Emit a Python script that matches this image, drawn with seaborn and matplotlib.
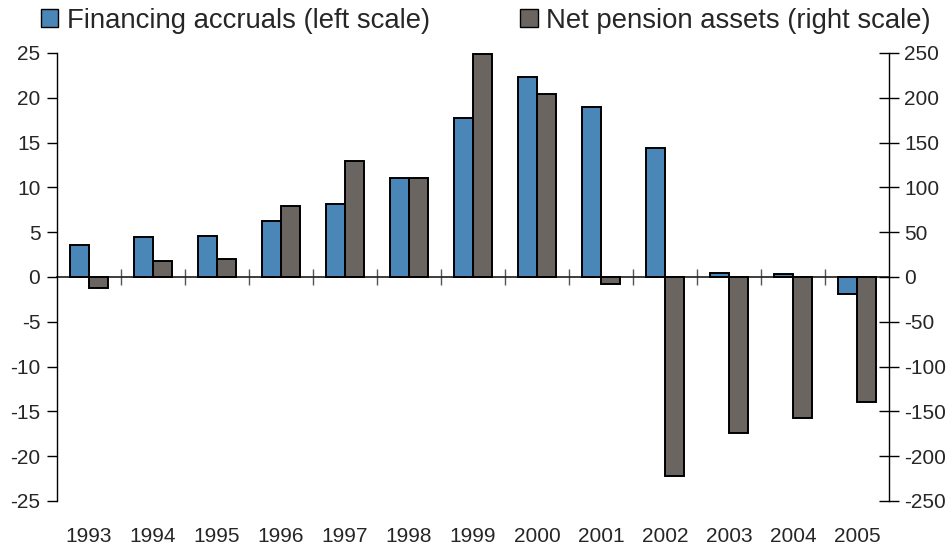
import matplotlib
matplotlib.use("Agg")
import matplotlib.pyplot as plt
from matplotlib.patches import Patch
import numpy as np
import pandas as pd
import seaborn as sns

years = [str(y) for y in range(1993, 2006)]
financing_accruals = [3.6, 4.5, 4.6, 6.2, 8.1, 11.0, 17.8, 22.3, 19.0, 14.4, 0.4, 0.3, -1.9]
net_pension_assets = [-12, 18, 20, 79, 130, 110, 249, 204, -8, -222, -174, -157, -140]

lab_left = "Financing accruals (left scale)"
lab_right = "Net pension assets (right scale)"
c_blue = "#4A87B8"
c_gray = "#6A6560"

sns.set_theme(style="white")
plt.rcParams['font.family'] = ['Liberation Sans', 'DejaVu Sans']
plt.rcParams['axes.unicode_minus'] = False

# long-form tables, one per axis (the other series left empty so dodge keeps its slot)
n = len(years)
df_left = pd.DataFrame({
    "year": years * 2,
    "series": [lab_left] * n + [lab_right] * n,
    "value": financing_accruals + [np.nan] * n,
})
df_right = pd.DataFrame({
    "year": years * 2,
    "series": [lab_left] * n + [lab_right] * n,
    "value": [np.nan] * n + net_pension_assets,
})
order = [lab_left, lab_right]
pal = {lab_left: c_blue, lab_right: c_gray}

fig = plt.figure(figsize=(9.52, 5.48), dpi=100)
ax = fig.add_axes([57 / 952, 1 - 501 / 548, (889 - 57) / 952, (501 - 53) / 548])
ax2 = ax.twinx()

kw = dict(x="year", y="value", hue="series", hue_order=order, order=years,
          palette=pal, width=0.6, dodge=True, errorbar=None, legend=False,
          edgecolor="black", linewidth=1.4, saturation=1)
sns.barplot(data=df_left, ax=ax, **kw)
sns.barplot(data=df_right, ax=ax2, **kw)

ax.set_xlim(-0.5, n - 0.5)
ax.set_ylim(-25, 25)
ax2.set_ylim(-250, 250)
ax.set_yticks(range(-25, 26, 5))
ax2.set_yticks(range(-250, 251, 50))
ax.set_xlabel("")
ax.set_ylabel("")
ax2.set_ylabel("")

for a in (ax, ax2):
    for s in ("top", "bottom"):
        a.spines[s].set_visible(False)
ax.spines["right"].set_visible(False)
ax2.spines["left"].set_visible(False)
ax.spines["left"].set_linewidth(1.0)
ax2.spines["right"].set_linewidth(1.0)
ax.spines["left"].set_color("black")
ax2.spines["right"].set_color("black")

ax.tick_params(axis="y", direction="out", length=7, width=1, color="black",
               labelsize=15, pad=5, left=True)
ax2.tick_params(axis="y", direction="inout", length=14, width=1, color="black",
                labelsize=15, pad=4, right=True)
ax.tick_params(axis="x", length=0, labelsize=15, pad=19)

# zero line with category boundary ticks
zero_ax = ax.secondary_xaxis(0.5)
zero_ax.set_xticks(np.arange(-0.5, n, 1.0)[1:-1])
zero_ax.tick_params(direction="inout", length=12, width=1, color="#555555", labelbottom=False)
zero_ax.set_xticklabels([])
zero_ax.spines["bottom"].set_linewidth(1.0)
zero_ax.spines["bottom"].set_color("black")

ax2.set_zorder(ax.get_zorder() + 1)
ax2.patch.set_visible(False)

for x0, lab, col in [(0.031, lab_left, c_blue), (0.535, lab_right, c_gray)]:
    fig.legend(handles=[Patch(facecolor=col, edgecolor="black", linewidth=1.0, label=lab)],
               loc="upper left", bbox_to_anchor=(x0, 1.006), frameon=False,
               fontsize=19.8, handlelength=0.65, handleheight=0.65, handletextpad=0.3,
               borderaxespad=0)

fig.savefig("out.png", dpi=100)
